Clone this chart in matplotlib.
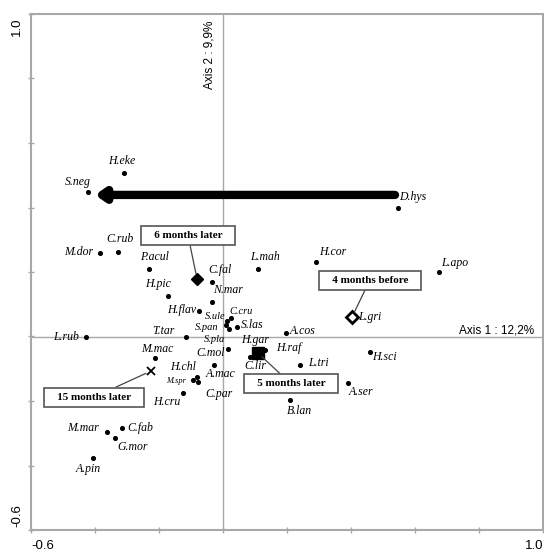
import numpy as np
import matplotlib.pyplot as plt

# species coordinates on the two first axes
species = ['H.eke', 'S.neg', 'D.hys', 'C.rub', 'M.dor', 'P.acul', 'C.fal', 'L.mah',
           'H.cor', 'L.apo', 'L.gri', 'H.pic', 'N.mar', 'H.flav', 'C.cru', 'S.ule',
           'S.pan', 'S.pla', 'S.las', 'H.gar', 'T.tar', 'L.rub', 'A.cos', 'C.mol',
           'C.lir', 'H.raf', 'M.mac', 'A.mac', 'H.chl', 'M.spr', 'C.par', 'H.cru',
           'L.tri', 'H.sci', 'A.ser', 'B.lan', 'M.mar', 'C.fab', 'G.mor', 'A.pin']
axis1 = [-0.309, -0.422, 0.547, -0.328, -0.384, -0.231, -0.034, 0.109,
         0.291, 0.675, 0.410, -0.172, -0.034, -0.075, 0.025, 0.0125,
         0.009, 0.019, 0.044, 0.109, -0.116, -0.428, 0.197, 0.016,
         0.084, 0.131, -0.2125, -0.028, -0.081, -0.094, -0.078, -0.125,
         0.241, 0.459, 0.391, 0.209, -0.3625, -0.316, -0.3375, -0.406]
axis2 = [0.507, 0.448, 0.398, 0.262, 0.259, 0.209, 0.169, 0.209,
         0.231, 0.200, 0.060, 0.126, 0.107, 0.079, 0.057, 0.048,
         0.036, 0.023, 0.029, -0.051, -0.002, -0.002, 0.011, -0.039,
         -0.064, -0.042, -0.067, -0.088, -0.126, -0.135, -0.141, -0.175,
         -0.088, -0.048, -0.144, -0.197, -0.296, -0.284, -0.315, -0.377]

# sampling dates projected as supplementary points
periods = ['6 months later', '4 months before', '5 months later', '15 months later']
period_x = [-0.081, 0.403, 0.109, -0.225]
period_y = [0.178, 0.060, -0.051, -0.107]

# shift of the community (arrow)
shift_start = (0.5375, 0.439)
shift_end = (-0.40, 0.439)

# label offsets in pixels (dx, dy)
offsets = {
    'H.eke': (-2, 12), 'S.neg': (-10, 10), 'D.hys': (15, 11), 'C.rub': (2, 13),
    'M.dor': (-21, 1), 'P.acul': (5, 12), 'C.fal': (8, 12), 'L.mah': (7, 12),
    'H.cor': (17, 10), 'L.apo': (16, 9), 'L.gri': (16, 0), 'H.pic': (-10, 12),
    'N.mar': (16, 12), 'H.flav': (-17, 1), 'C.cru': (10, 7), 'S.ule': (-12, 5),
    'S.pan': (-19, -3), 'S.pla': (-15, -10), 'S.las': (15, 2), 'H.gar': (-3, 13),
    'T.tar': (-22, 6), 'L.rub': (-20, 0), 'A.cos': (17, 2), 'C.mol': (-18, -4),
    'C.lir': (5, -9), 'H.raf': (24, 2), 'M.mac': (2, 9), 'A.mac': (6, -9),
    'H.chl': (-14, 10), 'M.spr': (-17, -1), 'C.par': (21, -12), 'H.cru': (-16, -9),
    'L.tri': (18, 2), 'H.sci': (15, -5), 'A.ser': (13, -9), 'B.lan': (10, -11),
    'M.mar': (-24, 4), 'C.fab': (18, 0), 'G.mor': (18, -9), 'A.pin': (-5, -11),
}
crowded = ['S.ule', 'S.pan', 'S.pla', 'C.cru']
# box centres for period labels (data coords)
box_pos = [(-0.109, 0.312), (0.459, 0.175), (0.2125, -0.147), (-0.403, -0.188)]

fig = plt.figure(figsize=(5.44, 5.52), dpi=100)
ax = fig.add_axes([31/544, 22/552, 512/544, 516/552])
ax.set_xlim(-0.6, 1.0)
ax.set_ylim(-0.6, 1.0)

grey = '#a8a8a8'
ax.axhline(0, color=grey, lw=1, zorder=0)
ax.axvline(0, color=grey, lw=1, zorder=0)

ax.scatter(axis1, axis2, s=7, color='black', zorder=3)
for name, x, y in zip(species, axis1, axis2):
    dx, dy = offsets[name]
    fs = 8.5
    if name == 'M.spr':
        fs = 6
    elif name in crowded:
        fs = 7.5
    ax.annotate(name, (x, y), xytext=(dx, dy), textcoords='offset pixels',
                ha='center', va='center', fontsize=fs, style='italic',
                family='Liberation Serif', zorder=4)

# period markers
ax.plot(period_x[0], period_y[0], marker='D', ms=6, color='black', ls='', zorder=5)
ax.plot(period_x[1], period_y[1], marker='D', ms=6, mfc='white', mec='black',
        mew=2, ls='', zorder=5)
ax.plot(period_x[2], period_y[2], marker='s', ms=8, color='black', ls='', zorder=5)
ax.plot(period_x[3], period_y[3], marker='x', ms=6, mew=1.3, color='black', ls='', zorder=5)

for lab, (bx, by), px, py in zip(periods, box_pos, period_x, period_y):
    ax.annotate('   ' + lab + '   ', (px, py), xytext=(bx, by), textcoords='data',
                ha='center', va='center', fontsize=8, weight='bold',
                family='Liberation Serif', zorder=6,
                bbox=dict(boxstyle='square,pad=0.45', fc='white', ec='#555555', lw=1.2),
                arrowprops=dict(arrowstyle='-', color='#444444', lw=0.9,
                                shrinkA=0, shrinkB=4))

ax.annotate('', xy=shift_end, xytext=shift_start,
            arrowprops=dict(arrowstyle='-|>,head_length=0.5,head_width=0.35',
                            color='black', lw=6, shrinkA=0, shrinkB=0), zorder=5)

ax.text(-0.041, 0.873, 'Axis 2 : 9,9%', rotation=90, ha='center', va='center',
        fontsize=8.5, family='Liberation Sans')
ax.text(0.856, 0.020, 'Axis 1 : 12,2%', ha='center', va='center',
        fontsize=8.5, family='Liberation Sans')

ticks = np.arange(-0.6, 1.01, 0.2)
ax.set_xticks(ticks)
ax.set_yticks(ticks)
ax.set_xticklabels([])
ax.set_yticklabels([])
ax.tick_params(direction='inout', length=5, color=grey, width=1)
for s in ax.spines.values():
    s.set_color(grey)
    s.set_linewidth(1.5)

ax.text(0.0, -0.02, '-0.6', transform=ax.transAxes, ha='left', va='top',
        fontsize=9.5, family='Liberation Sans')
ax.text(1.0, -0.02, '1.0', transform=ax.transAxes, ha='right', va='top',
        fontsize=9.5, family='Liberation Sans')
ax.text(-0.015, 0.993, '1.0', transform=ax.transAxes, ha='right', va='top',
        rotation=90, fontsize=9.5, family='Liberation Sans')
ax.text(-0.015, 0.005, '-0.6', transform=ax.transAxes, ha='right', va='bottom',
        rotation=90, fontsize=9.5, family='Liberation Sans')

fig.savefig('out.png', dpi=100)
